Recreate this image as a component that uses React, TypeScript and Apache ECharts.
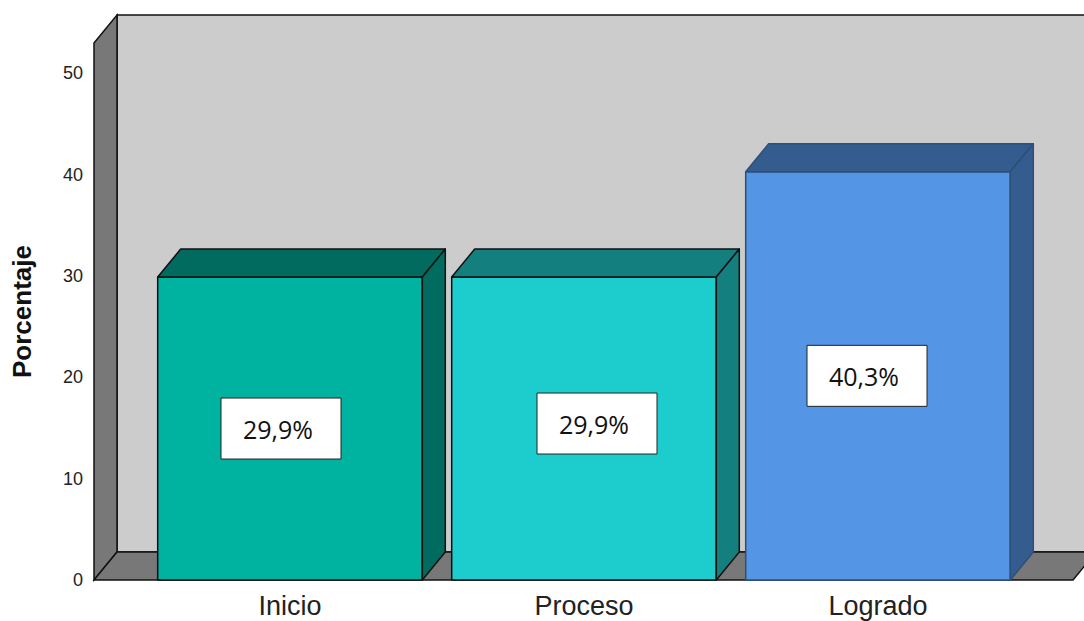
import React, { useEffect, useRef } from "react";
import * as echarts from "echarts";

const categories = ["Inicio", "Proceso", "Logrado"];
const percentages = [29.9, 29.9, 40.3];
const yTicks = [0, 10, 20, 30, 40, 50];
const yAxisTitle = "Porcentaje";

const FRONT = ["#00B2A0", "#1DCDCD", "#5495E5"];
const DARK = ["#006B5E", "#137F7F", "#345C8E"];
const EDGE = ["#111111", "#111111", "#2E4F78"];
const LABEL_SHIFT = [[-9, 0], [13, -5], [-11, 0]];
const DX = 23;
const DY = 28;
const PAD_L = 49;
const PAD_R = 48;

export default function App() {
  const ref = useRef<HTMLDivElement>(null);
  useEffect(() => {
    if (!ref.current) return;
    const chart = echarts.init(ref.current, null, { renderer: "svg" });
    const option: any = {
      animation: false,
      grid: { left: 143, right: 59, top: 43, bottom: 41 },
      xAxis: {
        type: "category",
        data: categories,
        axisLine: { show: false },
        axisTick: { show: false },
        axisLabel: { fontSize: 27, color: "#222", fontFamily: "Liberation Sans", margin: 12 },
      },
      yAxis: {
        type: "value",
        min: 0,
        max: 53,
        interval: 10,
        splitLine: { show: false },
        axisLine: { show: false },
        axisTick: { show: false },
        axisLabel: {
          fontSize: 18,
          color: "#222",
          fontFamily: "Liberation Sans",
          margin: 60,
          showMaxLabel: false,
          formatter: (v: number) => (yTicks.indexOf(v) >= 0 ? String(v) : ""),
        },
        name: yAxisTitle,
        nameLocation: "middle",
        nameRotate: 90,
        nameGap: 108,
        nameTextStyle: { fontSize: 26, fontWeight: "bold", color: "#111", fontFamily: "Liberation Sans" },
      },
      series: [
        {
          type: "custom",
          silent: true,
          z: 1,
          data: [[0, 0]],
          renderItem: (params: any, api: any) => {
            const cs = params.coordSys;
            const x0 = cs.x - PAD_L;
            const x1 = cs.x + cs.width + PAD_R;
            const yb = cs.y + cs.height;
            const yt = cs.y;
            const lineStyle = { stroke: "#111", lineWidth: 1.5 };
            return {
              type: "group",
              children: [
                {
                  type: "rect",
                  shape: { x: x0 + DX, y: yt - DY, width: x1 - x0, height: yb - yt },
                  style: { fill: "#CCCCCC", stroke: "#111", lineWidth: 1.5 },
                },
                {
                  type: "polygon",
                  shape: { points: [[x0, yt], [x0 + DX, yt - DY], [x0 + DX, yb - DY], [x0, yb]] },
                  style: { fill: "#787878", ...lineStyle },
                },
                {
                  type: "polygon",
                  shape: { points: [[x0, yb], [x1, yb], [x1 + DX, yb - DY], [x0 + DX, yb - DY]] },
                  style: { fill: "#787878", ...lineStyle },
                },
              ],
            };
          },
        },
        {
          type: "custom",
          silent: true,
          z: 2,
          data: percentages.map((v, i) => [i, v]),
          renderItem: (params: any, api: any) => {
            const i = params.dataIndex;
            const v = api.value(1);
            const top = api.coord([i, v]);
            const base = api.coord([i, 0]);
            const mid = api.coord([i, v / 2]);
            const cx = mid[0] + LABEL_SHIFT[i][0];
            const cy = mid[1] + LABEL_SHIFT[i][1];
            const band = api.size([1, 0])[0];
            const w = band * 0.9;
            const xl = top[0] - w / 2;
            const xr = top[0] + w / 2;
            const yt = top[1];
            const yb = base[1];
            const edge = { stroke: EDGE[i], lineWidth: 1.5, lineJoin: "round" };
            const label = v.toFixed(1).replace(".", ",") + "%";
            return {
              type: "group",
              children: [
                {
                  type: "rect",
                  shape: { x: xl, y: yt, width: w, height: yb - yt },
                  style: { fill: FRONT[i], ...edge },
                },
                {
                  type: "polygon",
                  shape: { points: [[xl, yt], [xl + DX, yt - DY], [xr + DX, yt - DY], [xr, yt]] },
                  style: { fill: DARK[i], ...edge },
                },
                {
                  type: "polygon",
                  shape: { points: [[xr, yt], [xr + DX, yt - DY], [xr + DX, yb - DY], [xr, yb]] },
                  style: { fill: DARK[i], ...edge },
                },
                {
                  type: "rect",
                  shape: { x: cx - 60, y: cy - 30.5, width: 120, height: 61 },
                  style: { fill: "#FFFFFF", stroke: "#222", lineWidth: 1 },
                },
                {
                  type: "text",
                  style: {
                    x: cx - 3,
                    y: cy,
                    text: label,
                    fill: "#111",
                    fontSize: 25,
                    fontFamily: "Open Sans",
                    align: "center",
                    verticalAlign: "middle",
                  },
                },
              ],
            };
          },
        },
      ],
    };
    chart.setOption(option);
    return () => chart.dispose();
  }, []);
  return (
    <div
      ref={ref}
      style={{ position: "fixed", left: 0, top: 0, width: 1084, height: 621, background: "#fff" }}
    />
  );
}
